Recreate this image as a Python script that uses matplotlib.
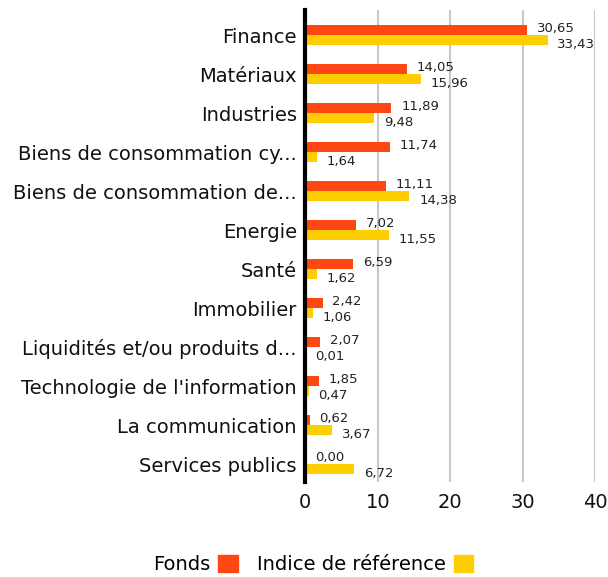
import matplotlib
matplotlib.use("Agg")
import matplotlib.pyplot as plt
import numpy as np
from matplotlib.patches import Patch

plt.rcParams['font.family'] = ['DejaVu Sans']

# secteurs, du haut vers le bas
categories = ["Finance", "Matériaux", "Industries",
              "Biens de consommation cy...", "Biens de consommation de...",
              "Energie", "Santé", "Immobilier",
              "Liquidités et/ou produits d...", "Technologie de l'information",
              "La communication", "Services publics"]
fonds = [30.65, 14.05, 11.89, 11.74, 11.11, 7.02, 6.59, 2.42, 2.07, 1.85, 0.62, 0.00]
indice = [33.43, 15.96, 9.48, 1.64, 14.38, 11.55, 1.62, 1.06, 0.01, 0.47, 3.67, 6.72]
x_ticks = [0, 10, 20, 30, 40]

ORANGE = "#FF4713"
YELLOW = "#FFCE00"

fig = plt.figure(figsize=(6.08, 5.77), dpi=100)
ax = fig.add_axes([0.502, 0.165, 0.477, 0.818])

y = np.arange(len(categories))
h = 0.25
ax.barh(y - h / 2, fonds, height=h, color=ORANGE, zorder=3)
ax.barh(y + h / 2, indice, height=h, color=YELLOW, zorder=3)

def fmt(v):
    return f"{v:.2f}".replace(".", ",")

for yi, v in zip(y, fonds):
    ax.annotate(fmt(v), (v, yi - h / 2), xytext=(7, 1.5), textcoords="offset points",
                ha="left", va="center", fontsize=9.5, color="#222222", zorder=4)
for yi, v in zip(y, indice):
    ax.annotate(fmt(v), (v, yi + h / 2), xytext=(7, -3), textcoords="offset points",
                ha="left", va="center", fontsize=9.5, color="#222222", zorder=4)

ax.set_xlim(0, 40)
ax.set_ylim(len(categories) - 0.55, -0.65)
ax.set_xticks(x_ticks)
ax.set_xticklabels([str(t) for t in x_ticks], fontsize=14)
ax.set_yticks(y)
ax.set_yticklabels(categories, fontsize=14)
ax.tick_params(axis="both", length=0, colors="#111111")
ax.tick_params(axis="x", pad=8)
ax.tick_params(axis="y", pad=6)

ax.grid(axis="x", color="#c8c8c8", linewidth=1.5, zorder=0)
for s in ["top", "right", "bottom"]:
    ax.spines[s].set_visible(False)
ax.spines["left"].set_color("black")
ax.spines["left"].set_linewidth(3)
ax.spines["left"].set_zorder(5)

handles = [Patch(color=ORANGE), Patch(color=YELLOW)]
fig.legend(handles, ["Fonds", "Indice de référence"], loc="center",
           bbox_to_anchor=(0.515, 0.022), ncol=2, frameon=False, markerfirst=False,
           fontsize=14, handlelength=1, handleheight=1, columnspacing=1.0,
           handletextpad=0.4)

fig.savefig("out.png", dpi=100)
